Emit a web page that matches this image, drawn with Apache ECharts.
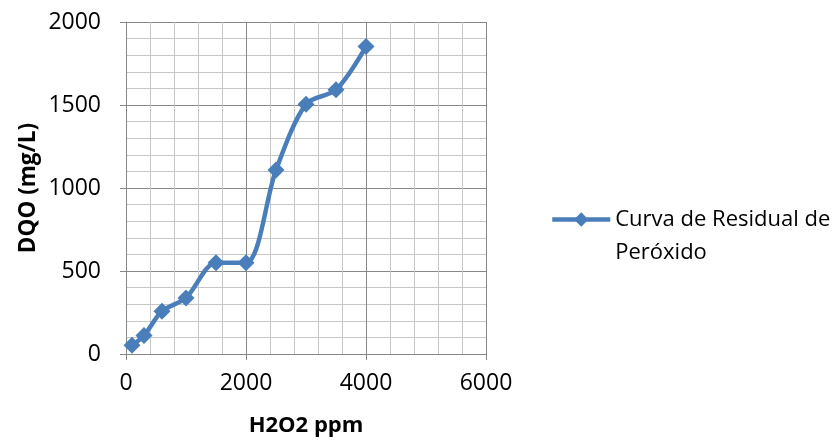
<!DOCTYPE html>
<html>
<head>
<meta charset="utf-8">
<script src="https://cdn.jsdelivr.net/npm/echarts@6/dist/echarts.min.js"></script>
<style>
  html, body { margin: 0; padding: 0; background: #fff; }
  #chart { width: 838px; height: 442px; }
</style>
</head>
<body>
<div id="chart"></div>
<script>
// H2O2 dose (ppm) vs residual DQO (mg/L)
const h2o2Ppm = [100, 300, 600, 1000, 1500, 2000, 2500, 3000, 3500, 4000];
const dqoMgL = [52, 112, 258, 338, 550, 550, 1108, 1505, 1592, 1852];
const seriesName = 'Curva de Residual de Peróxido';
const xAxisTitle = 'H2O2 ppm';
const yAxisTitle = 'DQO (mg/L)';

const FONT = '"Open Sans", "Noto Sans", sans-serif';
const BLUE = '#4A7EBB';
const MAJOR = '#868686';
const MINOR = '#C6C6C6';

const chart = echarts.init(document.getElementById('chart'), null, { renderer: 'canvas' });

chart.setOption({
  animation: false,
  backgroundColor: '#fff',
  textStyle: { fontFamily: FONT },
  grid: { left: 126, right: 352, top: 22, bottom: 88 },
  legend: {
    left: 550,
    top: 170,
    padding: 0,
    orient: 'vertical',
    itemWidth: 58,
    itemHeight: 18,
    itemGap: 0,
    // leading empty line keeps the icon level with the first text line
    formatter: () => '\nCurva de Residual de\nPeróxido',
    textStyle: { fontFamily: FONT, fontSize: 22, color: '#000', lineHeight: 33 },
    lineStyle: { width: 4.5 },
    data: [seriesName]
  },
  xAxis: {
    type: 'value',
    min: 0, max: 6000, interval: 2000,
    name: xAxisTitle,
    nameLocation: 'middle',
    nameGap: 61,
    nameTextStyle: { fontFamily: FONT, fontSize: 22, fontWeight: 'bold', color: '#000' },
    axisLine: { show: true, onZero: false, lineStyle: { color: MAJOR, width: 1 } },
    axisTick: { show: true, length: 6, lineStyle: { color: MAJOR } },
    axisLabel: { color: '#000', fontSize: 23, fontFamily: FONT, margin: 18, formatter: (v) => String(v) },
    splitLine: { show: true, lineStyle: { color: MAJOR, width: 1 } },
    minorTick: { show: false, splitNumber: 5 },
    minorSplitLine: { show: true, lineStyle: { color: MINOR, width: 1 } }
  },
  yAxis: {
    type: 'value',
    min: 0, max: 2000, interval: 500,
    name: yAxisTitle,
    nameLocation: 'middle',
    nameGap: 86,
    nameTextStyle: { fontFamily: FONT, fontSize: 22.5, fontWeight: 'bold', color: '#000' },
    axisLine: { show: true, lineStyle: { color: MAJOR, width: 1 } },
    axisTick: { show: true, length: 6, lineStyle: { color: MAJOR } },
    axisLabel: { color: '#000', fontSize: 23, fontFamily: FONT, margin: 25, formatter: (v) => String(v) },
    splitLine: { show: true, lineStyle: { color: MAJOR, width: 1 } },
    minorTick: { show: false, splitNumber: 5 },
    minorSplitLine: { show: true, lineStyle: { color: MINOR, width: 1 } }
  },
  series: [{
    name: seriesName,
    type: 'line',
    data: h2o2Ppm.map((x, i) => [x, dqoMgL[i]]),
    smooth: 0.3,
    symbol: 'diamond',
    symbolSize: 17,
    showSymbol: true,
    lineStyle: { color: BLUE, width: 4.5 },
    itemStyle: { color: BLUE, borderWidth: 0 }
  }]
});
</script>
</body>
</html>
